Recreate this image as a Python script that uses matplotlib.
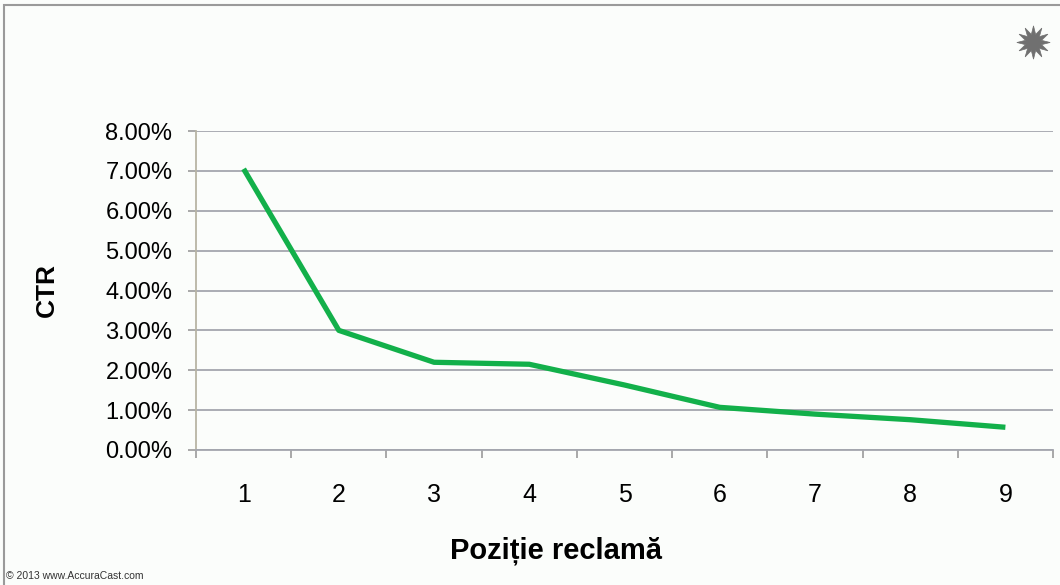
import matplotlib
matplotlib.use("Agg")
import matplotlib.pyplot as plt
from matplotlib.patches import Rectangle
from matplotlib.ticker import FixedLocator, FuncFormatter

positions = [1, 2, 3, 4, 5, 6, 7, 8, 9]
ctr = [7.05, 3.00, 2.20, 2.15, 1.63, 1.07, 0.90, 0.76, 0.57]
y_ticks = [0, 1, 2, 3, 4, 5, 6, 7, 8]
x_label = "Poziție reclamă"
y_label = "CTR"
credit = "© 2013 www.AccuraCast.com"

plt.rcParams['font.family'] = ['Liberation Sans', 'DejaVu Sans']

fig = plt.figure(figsize=(10.6, 5.85), dpi=100)
fig.patch.set_facecolor('#fbfdfb')

# outer frame
fig.patches.append(Rectangle((0.004, -0.02), 1.05, 1.011,
                             transform=fig.transFigure, fill=False,
                             edgecolor='#9a9a9a', linewidth=1.5, zorder=0))

ax = fig.add_axes([196/1060, 1 - 450/585, (1053 - 196)/1060, (450 - 131)/585])
ax.set_facecolor('#fbfdfb')

ax.plot(positions, ctr, color='#12b04a', linewidth=3.8, solid_capstyle='butt',
        solid_joinstyle='round', zorder=3)

ax.set_xlim(0.5, 9.5)
ax.set_ylim(0, 8)
ax.set_yticks(y_ticks)
ax.yaxis.set_major_formatter(FuncFormatter(lambda v, p: f"{v:.2f}%"))
ax.grid(axis='y', color='#a4a6ae', linewidth=1.3, zorder=1)
ax.set_axisbelow(True)

ax.set_xticks(positions)
ax.set_xticklabels([str(p) for p in positions])
ax.xaxis.set_minor_locator(FixedLocator([p + 0.5 for p in range(0, 10)]))
ax.tick_params(axis='x', which='major', length=0, pad=24, labelsize=18)
ax.tick_params(axis='x', which='minor', length=6, width=1.2, color='#9a9a9a', direction='out')
ax.tick_params(axis='y', length=6, width=1.2, color='#9a9a9a', pad=11, labelsize=17)

for s in ['top', 'right']:
    ax.spines[s].set_visible(False)
ax.spines['left'].set_color('#b8b4a4')
ax.spines['left'].set_linewidth(1.3)
ax.spines['bottom'].set_color('#a4a6ae')
ax.spines['bottom'].set_linewidth(1.3)

fig.text(47/1060, 1 - 290/585, y_label, rotation=90, fontsize=19, fontweight='bold',
         ha='center', va='center')
fig.text(556/1060, 1 - 551/585, x_label, fontsize=21, fontweight='bold',
         ha='center', va='center')
fig.text(6/1060, 1 - 576/585, credit, fontsize=7.5, ha='left', va='center', color='#333333')

# star icon top-right
fig.lines.append(plt.Line2D([1033/1060], [1 - 42/585], transform=fig.transFigure,
                            marker=(12, 1, 0), markersize=24, color='#707070',
                            markeredgewidth=0.5, linestyle='none'))

fig.savefig('out.png', dpi=100, facecolor=fig.get_facecolor())
